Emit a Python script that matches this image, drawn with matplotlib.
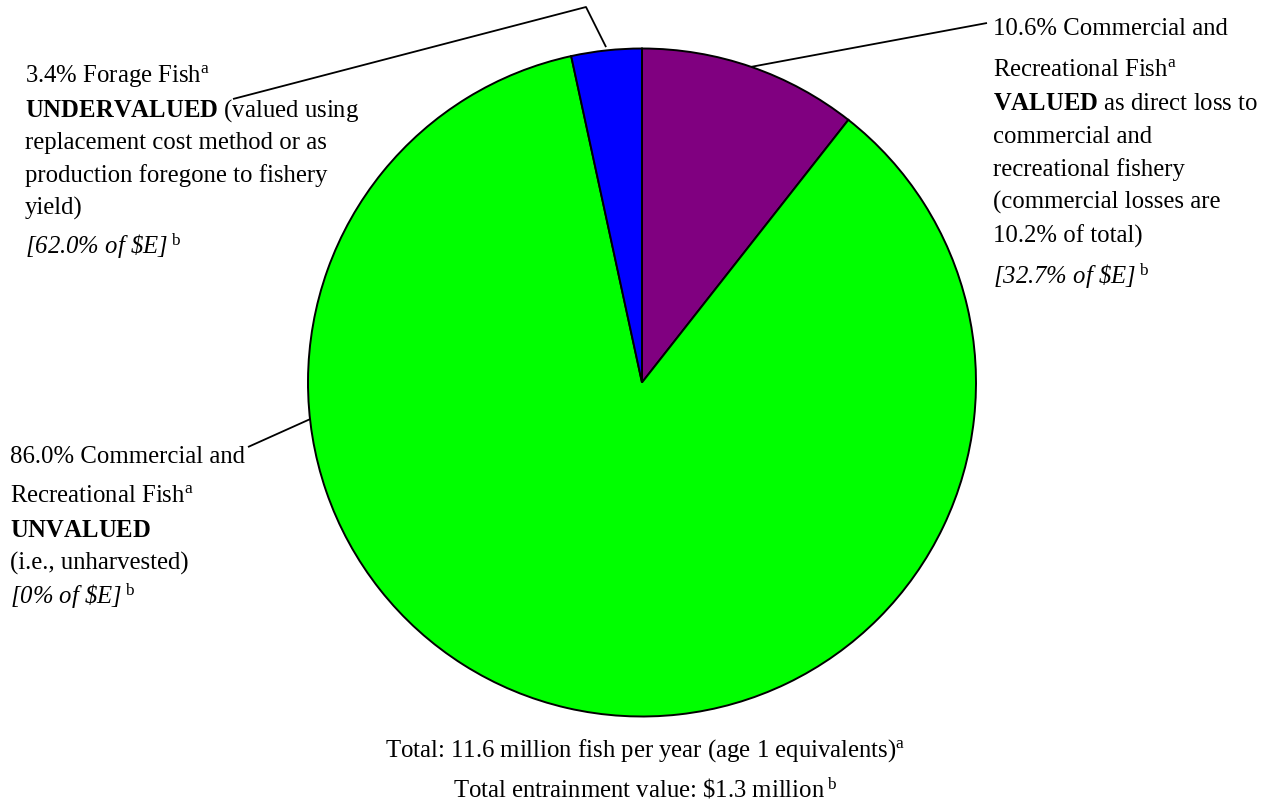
import numpy as np
import matplotlib.pyplot as plt

plt.rcParams['font.family'] = 'Liberation Serif'
plt.rcParams['mathtext.fontset'] = 'custom'
plt.rcParams['mathtext.rm'] = 'Liberation Serif'
plt.rcParams['mathtext.it'] = 'Liberation Serif:italic'
plt.rcParams['mathtext.bf'] = 'Liberation Serif:bold'

# datos
grupos = ['Commercial and Recreational Fish', 'Commercial and Recreational Fish', 'Forage Fish']
estado = ['VALUED', 'UNVALUED', 'UNDERVALUED']
porcentajes = [10.6, 86.0, 3.4]
pct_valor_e = [32.7, 0, 62.0]
colores = ['#800080', '#00FF00', '#0000FF']
pct_comercial = 10.2
total_peces = 11.6
total_valor = 1.3

W, H = 1267, 804
FS = 17.8
centro = (642, H - 383.5)
radio = 334

fig = plt.figure(figsize=(W / 100, H / 100), dpi=100)
ax = fig.add_axes([0, 0, 1, 1])
cunas, _ = ax.pie(porcentajes, colors=colores, startangle=90, counterclock=False,
                  center=centro, radius=radio,
                  wedgeprops=dict(edgecolor='black', linewidth=1.4))
ax.set_xlim(0, W)
ax.set_ylim(0, H)
ax.set_aspect('equal')
ax.axis('off')


def borde(angulo, f=1.0):
    a = np.deg2rad(angulo)
    return centro[0] + radio * f * np.cos(a), centro[1] + radio * f * np.sin(a)


def linea(puntos):
    xs = [p[0] for p in puntos]
    ys = [p[1] for p in puntos]
    ax.plot(xs, ys, color='black', lw=1.3, solid_capstyle='butt')


def bloque(x, lineas):
    # lineas: (texto, baseline en pixeles desde arriba, estilo)
    for s, yb, estilo in lineas:
        ax.text(x, H - yb, s, fontsize=FS, style=estilo, ha='left', va='baseline')


def medio(c):
    return (c.theta1 + c.theta2) / 2

sup_a = r'$^{\mathrm{a}}$'
sup_b = r'$^{\ \mathrm{b}}$'

# lineas guia
linea([borde(medio(cunas[0]), 1.0), (987, H - 24)])
linea([(233, H - 100), (586, H - 8), borde(medio(cunas[2]), 1.01)])
linea([(248, H - 448), borde(186.3, 1.0)])

bloque(993, [
    (f'{porcentajes[0]:.1f}% {grupos[0].rsplit(" ", 2)[0]}', 35, 'normal'),
    ('Recreational Fish' + sup_a, 76, 'normal'),
    (r'$\mathbf{' + estado[0] + r'}$ as direct loss to', 110, 'normal'),
    ('commercial and', 143, 'normal'),
    ('recreational fishery', 176, 'normal'),
    ('(commercial losses are', 209, 'normal'),
    (f'{pct_comercial:.1f}% of total)', 243, 'normal'),
    (f'[{pct_valor_e[0]:.1f}% of \\$E]' + sup_b, 284, 'italic'),
])

bloque(25, [
    (f'{porcentajes[2]:.1f}% {grupos[2]}' + sup_a, 82, 'normal'),
    (r'$\mathbf{' + estado[2] + r'}$ (valued using', 117, 'normal'),
    ('replacement cost method or as', 149, 'normal'),
    ('production foregone to fishery', 182, 'normal'),
    ('yield)', 215, 'normal'),
    (f'[{pct_valor_e[2]:.1f}% of \\$E]' + sup_b, 254, 'italic'),
])

bloque(10, [
    (f'{porcentajes[1]:.1f}% Commercial and', 463, 'normal'),
    ('Recreational Fish' + sup_a, 502, 'normal'),
    (r'$\mathbf{' + estado[1] + r'}$', 537, 'normal'),
    ('(i.e., unharvested)', 570, 'normal'),
    (f'[{pct_valor_e[1]:.0f}% of \\$E]' + sup_b, 604, 'italic'),
])

ax.text(645, H - 757, f'Total: {total_peces} million fish per year (age 1 equivalents)' + sup_a,
        fontsize=FS, ha='center', va='baseline')
ax.text(645, H - 797, f'Total entrainment value: \\${total_valor} million' + sup_b,
        fontsize=FS, ha='center', va='baseline')

fig.savefig('out.png', dpi=100)
